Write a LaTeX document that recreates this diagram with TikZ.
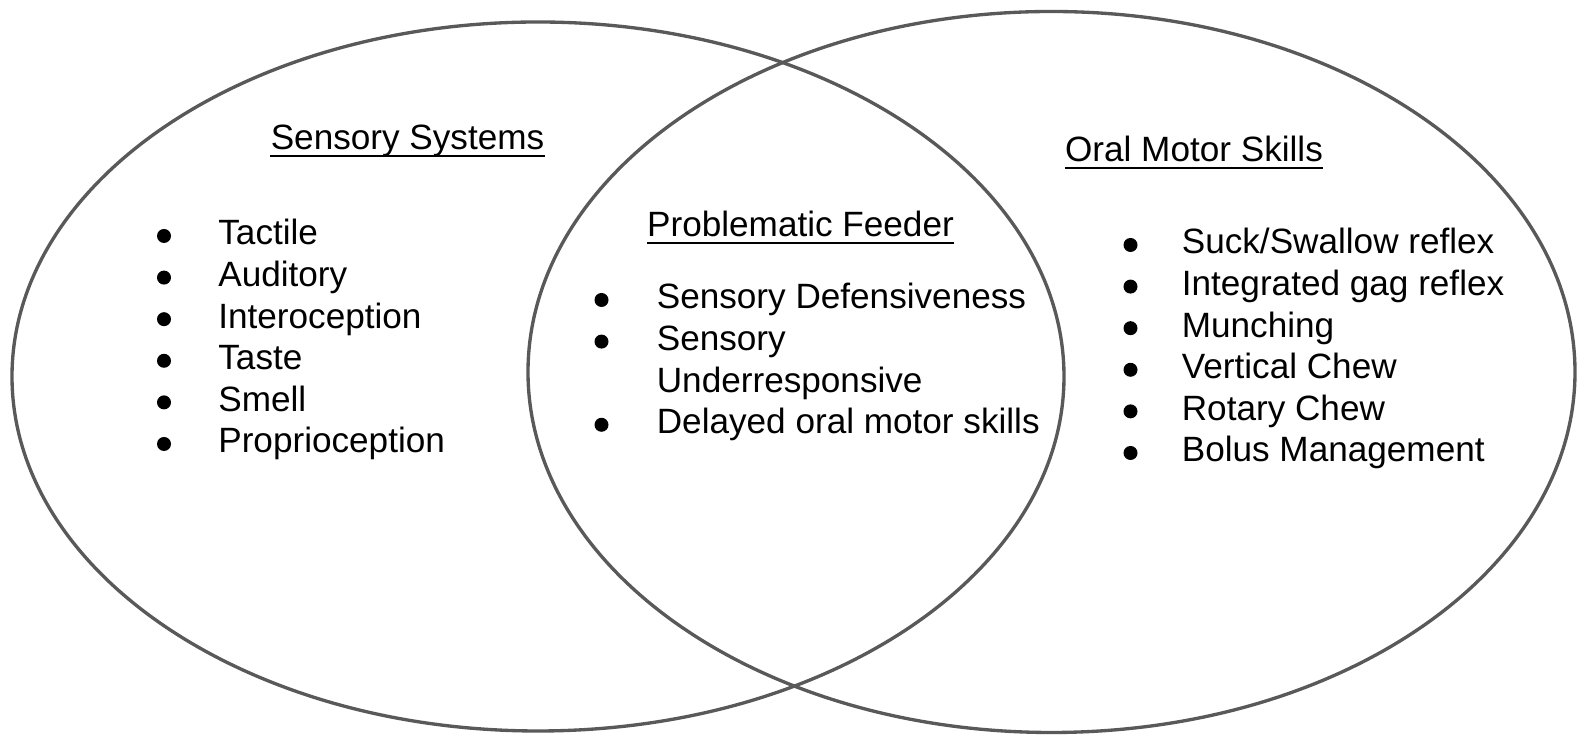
\documentclass[tikz,border=0pt]{standalone}
\usepackage{fontspec}
\setmainfont{Liberation Sans}
\usetikzlibrary{positioning,shapes.geometric}
\definecolor{ring}{HTML}{595959}
\definecolor{ink}{HTML}{000000}
\tikzset{
  every node/.append style={font=\fontsize{20}{24}\selectfont, text=ink},
  venn/.style={ellipse, draw=ring, line width=1.9pt, inner sep=0pt},
  hdr/.style={anchor=base, inner sep=0pt},
  item/.style={anchor=base west, inner sep=0pt},
  bul/.style={circle, fill=ink, inner sep=0pt, minimum size=0.28cm},
  uline/.style={line width=1.1pt, draw=ink},
}
\begin{document}
\begin{tikzpicture}
  \useasboundingbox (0,0) rectangle (31.54,14.7);
  % --- the two sets ---
  \node[venn, minimum width=21.04cm, minimum height=14.18cm] (sens) at (10.76,7.17) {};
  \node[venn, minimum width=20.94cm, minimum height=14.42cm] (oral) at (21.03,7.26) {};
  % --- headings ---
  \node[hdr] (hsens) at (8.15,11.70) {Sensory Systems};
  \node[hdr] (hprob) at (16.01,9.96) {Problematic Feeder};
  \node[hdr] (horal) at (23.88,11.46) {Oral Motor Skills};
  \foreach \h in {hsens,hprob,horal}{
     \draw[uline] ([yshift=-0.12cm]\h.base west) -- ([yshift=-0.12cm]\h.base east);}
  % --- left list ---
  \foreach \t [count=\i] in {Tactile,Auditory,Interoception,Taste,Smell,Proprioception}{
     \node[item] (ss\i) at (4.36,9.8-0.832*\i+0.832) {\t};
     \node[bul] (sb\i) at ([xshift=-1.08cm,yshift=0.18cm]ss\i.base west) {};}
  % --- overlap ---
  \foreach \t [count=\i] in {Sensory Defensiveness,Sensory,Underresponsive,Delayed oral motor skills}{
     \node[item] (pf\i) at (13.13,8.52-0.832*\i+0.832) {\t};}
  \foreach \i in {1,2,4}{
     \node[bul] (pb\i) at ([xshift=-1.10cm,yshift=0.18cm]pf\i.base west) {};}
  % --- right list ---
  \foreach \t [count=\i] in {Suck/Swallow reflex,Integrated gag reflex,Munching,Vertical Chew,Rotary Chew,Bolus Management}{
     \node[item] (om\i) at (23.63,9.62-0.832*\i+0.832) {\t};
     \node[bul] (ob\i) at ([xshift=-1.02cm,yshift=0.18cm]om\i.base west) {};}
\end{tikzpicture}
\end{document}
